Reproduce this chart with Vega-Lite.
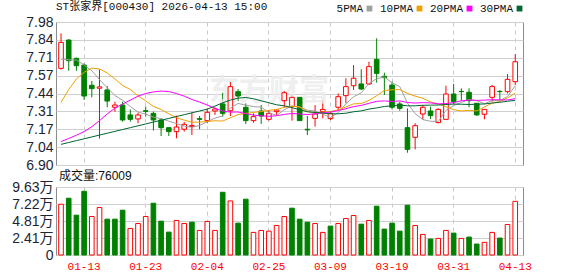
{
  "$schema": "https://vega.github.io/schema/vega-lite/v6.json",
  "background": "white",
  "padding": {"left": 0, "top": 0, "right": 0, "bottom": 0},
  "spacing": -4,
  "config": {
    "view": {"stroke": "#8c8c8c", "strokeWidth": 1},
    "axis": {"ticks": false, "domain": false, "gridColor": "#d0d0d0", "gridWidth": 1, "labelOverlap": false}
  },
  "data": {"values": [
    {"i":1,"d":"01-08","o":7.63,"h":7.894,"l":7.62,"c":7.826,"v":71900,"m5":7.70,"m10":7.373,"m20":7.077,"m30":7.056},
    {"i":2,"d":"01-09","o":7.844,"h":7.849,"l":7.612,"c":7.688,"v":80370,"m5":7.695,"m10":7.47,"m20":7.10,"m30":7.07},
    {"i":3,"d":"01-12","o":7.706,"h":7.71,"l":7.612,"c":7.65,"v":56400,"m5":7.693,"m10":7.55,"m20":7.125,"m30":7.084},
    {"i":4,"d":"01-13","o":7.655,"h":7.668,"l":7.391,"c":7.421,"v":90240,"m5":7.655,"m10":7.60,"m20":7.152,"m30":7.098},
    {"i":5,"d":"01-14","o":7.502,"h":7.535,"l":7.411,"c":7.477,"v":54500,"m5":7.612,"m10":7.632,"m20":7.19,"m30":7.112},
    {"i":6,"d":"01-15","o":7.48,"h":7.622,"l":7.10,"c":7.49,"v":67200,"m5":7.545,"m10":7.625,"m20":7.235,"m30":7.126},
    {"i":7,"d":"01-16","o":7.467,"h":7.497,"l":7.336,"c":7.383,"v":50760,"m5":7.484,"m10":7.595,"m20":7.285,"m30":7.14},
    {"i":8,"d":"01-19","o":7.336,"h":7.378,"l":7.303,"c":7.353,"v":50760,"m5":7.425,"m10":7.55,"m20":7.33,"m30":7.154},
    {"i":9,"d":"01-20","o":7.353,"h":7.378,"l":7.227,"c":7.24,"v":63450,"m5":7.389,"m10":7.50,"m20":7.36,"m30":7.168},
    {"i":10,"d":"01-21","o":7.278,"h":7.32,"l":7.227,"c":7.245,"v":37600,"m5":7.342,"m10":7.47,"m20":7.39,"m30":7.182},
    {"i":11,"d":"01-22","o":7.248,"h":7.295,"l":7.215,"c":7.278,"v":44650,"m5":7.30,"m10":7.423,"m20":7.42,"m30":7.196},
    {"i":12,"d":"01-23","o":7.31,"h":7.341,"l":7.265,"c":7.305,"v":54500,"m5":7.284,"m10":7.384,"m20":7.44,"m30":7.21},
    {"i":13,"d":"01-26","o":7.29,"h":7.303,"l":7.16,"c":7.24,"v":73300,"m5":7.262,"m10":7.343,"m20":7.452,"m30":7.224},
    {"i":14,"d":"01-27","o":7.24,"h":7.252,"l":7.119,"c":7.182,"v":47940,"m5":7.25,"m10":7.319,"m20":7.458,"m30":7.238},
    {"i":15,"d":"01-28","o":7.182,"h":7.185,"l":7.119,"c":7.152,"v":32430,"m5":7.231,"m10":7.287,"m20":7.455,"m30":7.252},
    {"i":16,"d":"01-29","o":7.152,"h":7.273,"l":7.102,"c":7.187,"v":48900,"m5":7.213,"m10":7.257,"m20":7.44,"m30":7.266},
    {"i":17,"d":"01-30","o":7.17,"h":7.225,"l":7.152,"c":7.207,"v":44650,"m5":7.194,"m10":7.239,"m20":7.42,"m30":7.28},
    {"i":18,"d":"02-02","o":7.19,"h":7.298,"l":7.127,"c":7.198,"v":46500,"m5":7.185,"m10":7.223,"m20":7.395,"m30":7.294},
    {"i":19,"d":"02-03","o":7.25,"h":7.27,"l":7.17,"c":7.245,"v":34800,"m5":7.198,"m10":7.224,"m20":7.375,"m30":7.308},
    {"i":20,"d":"02-04","o":7.235,"h":7.328,"l":7.215,"c":7.298,"v":47500,"m5":7.227,"m10":7.229,"m20":7.353,"m30":7.322},
    {"i":21,"d":"02-05","o":7.308,"h":7.336,"l":7.278,"c":7.323,"v":34800,"m5":7.254,"m10":7.234,"m20":7.328,"m30":7.345},
    {"i":22,"d":"02-06","o":7.361,"h":7.446,"l":7.265,"c":7.29,"v":88800,"m5":7.271,"m10":7.232,"m20":7.308,"m30":7.37},
    {"i":23,"d":"02-09","o":7.31,"h":7.529,"l":7.27,"c":7.492,"v":76600,"m5":7.33,"m10":7.257,"m20":7.30,"m30":7.39},
    {"i":24,"d":"02-10","o":7.454,"h":7.474,"l":7.383,"c":7.421,"v":45100,"m5":7.365,"m10":7.281,"m20":7.30,"m30":7.405},
    {"i":25,"d":"02-11","o":7.336,"h":7.366,"l":7.21,"c":7.235,"v":79000,"m5":7.352,"m10":7.29,"m20":7.288,"m30":7.41},
    {"i":26,"d":"02-12","o":7.235,"h":7.29,"l":7.22,"c":7.265,"v":32000,"m5":7.341,"m10":7.297,"m20":7.277,"m30":7.40},
    {"i":27,"d":"02-24","o":7.308,"h":7.353,"l":7.21,"c":7.27,"v":34800,"m5":7.337,"m10":7.304,"m20":7.271,"m30":7.385},
    {"i":28,"d":"02-25","o":7.245,"h":7.315,"l":7.235,"c":7.29,"v":33800,"m5":7.296,"m10":7.313,"m20":7.268,"m30":7.37},
    {"i":29,"d":"02-26","o":7.303,"h":7.32,"l":7.278,"c":7.315,"v":41800,"m5":7.275,"m10":7.32,"m20":7.272,"m30":7.355},
    {"i":30,"d":"02-27","o":7.386,"h":7.459,"l":7.336,"c":7.446,"v":54500,"m5":7.317,"m10":7.335,"m20":7.282,"m30":7.347},
    {"i":31,"d":"03-02","o":7.341,"h":7.429,"l":7.235,"c":7.411,"v":66300,"m5":7.346,"m10":7.344,"m20":7.289,"m30":7.333},
    {"i":32,"d":"03-03","o":7.411,"h":7.411,"l":7.235,"c":7.235,"v":50760,"m5":7.339,"m10":7.338,"m20":7.285,"m30":7.318},
    {"i":33,"d":"03-04","o":7.17,"h":7.27,"l":7.127,"c":7.165,"v":46500,"m5":7.314,"m10":7.305,"m20":7.281,"m30":7.302},
    {"i":34,"d":"03-05","o":7.252,"h":7.353,"l":7.19,"c":7.285,"v":44650,"m5":7.308,"m10":7.292,"m20":7.287,"m30":7.297},
    {"i":35,"d":"03-06","o":7.303,"h":7.391,"l":7.252,"c":7.32,"v":32000,"m5":7.283,"m10":7.30,"m20":7.295,"m30":7.292},
    {"i":36,"d":"03-09","o":7.25,"h":7.303,"l":7.24,"c":7.29,"v":40900,"m5":7.259,"m10":7.303,"m20":7.30,"m30":7.286},
    {"i":37,"d":"03-10","o":7.336,"h":7.441,"l":7.315,"c":7.416,"v":44650,"m5":7.295,"m10":7.317,"m20":7.311,"m30":7.287},
    {"i":38,"d":"03-11","o":7.424,"h":7.555,"l":7.366,"c":7.492,"v":51700,"m5":7.361,"m10":7.338,"m20":7.325,"m30":7.291},
    {"i":39,"d":"03-12","o":7.499,"h":7.655,"l":7.467,"c":7.555,"v":55900,"m5":7.415,"m10":7.362,"m20":7.341,"m30":7.302},
    {"i":40,"d":"03-13","o":7.512,"h":7.623,"l":7.467,"c":7.474,"v":43700,"m5":7.445,"m10":7.364,"m20":7.35,"m30":7.309},
    {"i":41,"d":"03-16","o":7.512,"h":7.68,"l":7.504,"c":7.643,"v":48900,"m5":7.516,"m10":7.388,"m20":7.366,"m30":7.322},
    {"i":42,"d":"03-17","o":7.698,"h":7.857,"l":7.522,"c":7.592,"v":69100,"m5":7.551,"m10":7.423,"m20":7.381,"m30":7.331},
    {"i":43,"d":"03-18","o":7.57,"h":7.597,"l":7.429,"c":7.56,"v":36700,"m5":7.565,"m10":7.463,"m20":7.384,"m30":7.342},
    {"i":44,"d":"03-19","o":7.504,"h":7.53,"l":7.32,"c":7.336,"v":45100,"m5":7.521,"m10":7.468,"m20":7.38,"m30":7.347},
    {"i":45,"d":"03-20","o":7.361,"h":7.378,"l":7.31,"c":7.328,"v":33800,"m5":7.492,"m10":7.469,"m20":7.384,"m30":7.353},
    {"i":46,"d":"03-23","o":7.182,"h":7.328,"l":6.993,"c":7.018,"v":70500,"m5":7.367,"m10":7.441,"m20":7.372,"m30":7.347},
    {"i":47,"d":"03-24","o":7.109,"h":7.215,"l":7.018,"c":7.197,"v":41800,"m5":7.288,"m10":7.42,"m20":7.368,"m30":7.347},
    {"i":48,"d":"03-25","o":7.285,"h":7.353,"l":7.24,"c":7.336,"v":29100,"m5":7.243,"m10":7.404,"m20":7.371,"m30":7.351},
    {"i":49,"d":"03-26","o":7.308,"h":7.341,"l":7.247,"c":7.273,"v":22600,"m5":7.23,"m10":7.376,"m20":7.369,"m30":7.352},
    {"i":50,"d":"03-27","o":7.22,"h":7.328,"l":7.215,"c":7.32,"v":23500,"m5":7.229,"m10":7.36,"m20":7.362,"m30":7.353},
    {"i":51,"d":"03-30","o":7.245,"h":7.499,"l":7.24,"c":7.436,"v":34800,"m5":7.312,"m10":7.34,"m20":7.364,"m30":7.357},
    {"i":52,"d":"03-31","o":7.436,"h":7.512,"l":7.361,"c":7.378,"v":31000,"m5":7.349,"m10":7.318,"m20":7.371,"m30":7.36},
    {"i":53,"d":"04-01","o":7.456,"h":7.479,"l":7.386,"c":7.454,"v":23500,"m5":7.372,"m10":7.308,"m20":7.385,"m30":7.359},
    {"i":54,"d":"04-02","o":7.449,"h":7.479,"l":7.336,"c":7.386,"v":25400,"m5":7.395,"m10":7.313,"m20":7.39,"m30":7.357},
    {"i":55,"d":"04-03","o":7.366,"h":7.366,"l":7.273,"c":7.278,"v":15500,"m5":7.386,"m10":7.308,"m20":7.388,"m30":7.359},
    {"i":56,"d":"04-07","o":7.283,"h":7.32,"l":7.245,"c":7.32,"v":17900,"m5":7.363,"m10":7.338,"m20":7.39,"m30":7.361},
    {"i":57,"d":"04-08","o":7.411,"h":7.504,"l":7.378,"c":7.492,"v":32000,"m5":7.386,"m10":7.367,"m20":7.393,"m30":7.368},
    {"i":58,"d":"04-09","o":7.456,"h":7.467,"l":7.391,"c":7.454,"v":24000,"m5":7.386,"m10":7.379,"m20":7.392,"m30":7.374},
    {"i":59,"d":"04-10","o":7.454,"h":7.587,"l":7.441,"c":7.547,"v":43200,"m5":7.418,"m10":7.407,"m20":7.391,"m30":7.381},
    {"i":60,"d":"04-13","o":7.529,"h":7.738,"l":7.504,"c":7.68,"v":76009,"m5":7.499,"m10":7.443,"m20":7.401,"m30":7.389}
  ]},
  "vconcat": [
    {
      "width": 467,
      "height": 143,
      "title": {"text": "ST张家界[000430] 2026-04-13 15:00", "anchor": "start", "frame": "group", "font": "Liberation Mono, Noto Sans CJK SC", "fontSize": 11, "fontWeight": "normal", "color": "#111", "offset": 3},
      "layer": [
        {
          "mark": {"type": "rule", "strokeWidth": 1},
          "encoding": {
            "x": {"field": "d", "type": "ordinal", "sort": null, "title": null,
                  "scale": {"type": "band", "paddingInner": 0, "paddingOuter": 0.33, "align": 0.23},
                  "axis": {"values": ["01-13","01-23","02-04","02-25","03-09","03-19","03-31","04-13"], "labels": false, "bandPosition": 0.5, "grid": true, "gridDash": [4, 4], "gridColor": "#c8c8c8", "title": null, "minExtent": 0, "maxExtent": 0, "labelPadding": 0}},
            "y": {"field": "l", "type": "quantitative", "title": null,
                  "scale": {"domain": [6.9, 7.98], "nice": false, "zero": false},
                  "axis": {"values": [6.9, 7.0351, 7.17, 7.3051, 7.44, 7.5749, 7.71, 7.8449, 7.98], "format": ".2f", "labelOverlap": false, "labelFont": "Liberation Sans", "labelFontSize": 14, "labelColor": "#1e2433", "labelPadding": 3, "minExtent": 55, "maxExtent": 55, "grid": true, "title": null}},
            "y2": {"field": "h"},
            "color": {"condition": {"test": "datum.c >= datum.o", "value": "#ff0000"}, "value": "#008000"}
          }
        },
        {
          "data": {"values": [{"t": "东方财富"}]},
          "mark": {"type": "text", "font": "Noto Sans CJK SC", "fontSize": 30, "fontWeight": "bold", "color": "#ececec", "align": "center", "baseline": "middle", "opacity": 0.8},
          "encoding": {
            "x": {"datum": "02-25", "type": "ordinal",
                  "axis": {"values": ["01-13","01-23","02-04","02-25","03-09","03-19","03-31","04-13"], "labels": false, "bandPosition": 0.5, "grid": true, "gridDash": [4, 4], "gridColor": "#c8c8c8", "title": null, "minExtent": 0, "maxExtent": 0, "labelPadding": 0}},
            "y": {"datum": 7.46, "type": "quantitative",
                  "axis": {"values": [6.9, 7.0351, 7.17, 7.3051, 7.44, 7.5749, 7.71, 7.8449, 7.98], "format": ".2f", "labelOverlap": false, "labelFont": "Liberation Sans", "labelFontSize": 14, "labelColor": "#1e2433", "labelPadding": 3, "minExtent": 55, "maxExtent": 55, "grid": true, "title": null}},
            "text": {"field": "t", "type": "nominal"}
          }
        },
        {
          "mark": {"type": "bar", "width": {"band": 0.6}, "strokeWidth": 1},
          "encoding": {
            "x": {"field": "d", "type": "ordinal", "sort": null, "title": null},
            "y": {"field": "o", "type": "quantitative", "title": null,
                  "axis": {"values": [6.9, 7.0351, 7.17, 7.3051, 7.44, 7.5749, 7.71, 7.8449, 7.98], "format": ".2f", "labelOverlap": false, "labelFont": "Liberation Sans", "labelFontSize": 14, "labelColor": "#1e2433", "labelPadding": 3, "minExtent": 55, "maxExtent": 55, "grid": true, "title": null}},
            "y2": {"field": "c"},
            "fill": {"condition": {"test": "datum.c >= datum.o", "value": "#ffffff"}, "value": "#008000"},
            "stroke": {"condition": {"test": "datum.c >= datum.o", "value": "#ff0000"}, "value": "#008000"}
          }
        },
        {
          "mark": {"type": "line", "strokeWidth": 1},
          "encoding": {
            "x": {"field": "d", "type": "ordinal", "sort": null, "title": null},
            "y": {"field": "m5", "type": "quantitative", "title": null,
                  "axis": {"values": [6.9, 7.0351, 7.17, 7.3051, 7.44, 7.5749, 7.71, 7.8449, 7.98], "format": ".2f", "labelOverlap": false, "labelFont": "Liberation Sans", "labelFontSize": 14, "labelColor": "#1e2433", "labelPadding": 3, "minExtent": 55, "maxExtent": 55, "grid": true, "title": null}},
            "color": {"datum": "5PMA", "type": "nominal",
                      "scale": {"domain": ["5PMA", "10PMA", "20PMA", "30PMA"], "range": ["#a0a0a0", "#f0a000", "#ff00ff", "#006633"]},
                      "legend": {"orient": "none", "legendX": 308, "legendY": -19, "direction": "horizontal", "title": null, "symbolType": "square", "symbolSize": 8, "symbolStrokeWidth": 3, "labelFont": "Liberation Mono", "labelFontSize": 11, "labelColor": "#111", "labelAlign": "right", "labelOffset": -12, "columnPadding": 2}}
          }
        },
        {
          "mark": {"type": "line", "strokeWidth": 1},
          "encoding": {
            "x": {"field": "d", "type": "ordinal", "sort": null, "title": null},
            "y": {"field": "m10", "type": "quantitative", "title": null,
                  "axis": {"values": [6.9, 7.0351, 7.17, 7.3051, 7.44, 7.5749, 7.71, 7.8449, 7.98], "format": ".2f", "labelOverlap": false, "labelFont": "Liberation Sans", "labelFontSize": 14, "labelColor": "#1e2433", "labelPadding": 3, "minExtent": 55, "maxExtent": 55, "grid": true, "title": null}},
            "color": {"datum": "10PMA", "type": "nominal"}
          }
        },
        {
          "mark": {"type": "line", "strokeWidth": 1},
          "encoding": {
            "x": {"field": "d", "type": "ordinal", "sort": null, "title": null},
            "y": {"field": "m20", "type": "quantitative", "title": null,
                  "axis": {"values": [6.9, 7.0351, 7.17, 7.3051, 7.44, 7.5749, 7.71, 7.8449, 7.98], "format": ".2f", "labelOverlap": false, "labelFont": "Liberation Sans", "labelFontSize": 14, "labelColor": "#1e2433", "labelPadding": 3, "minExtent": 55, "maxExtent": 55, "grid": true, "title": null}},
            "color": {"datum": "20PMA", "type": "nominal"}
          }
        },
        {
          "mark": {"type": "line", "strokeWidth": 1},
          "encoding": {
            "x": {"field": "d", "type": "ordinal", "sort": null, "title": null},
            "y": {"field": "m30", "type": "quantitative", "title": null,
                  "axis": {"values": [6.9, 7.0351, 7.17, 7.3051, 7.44, 7.5749, 7.71, 7.8449, 7.98], "format": ".2f", "labelOverlap": false, "labelFont": "Liberation Sans", "labelFontSize": 14, "labelColor": "#1e2433", "labelPadding": 3, "minExtent": 55, "maxExtent": 55, "grid": true, "title": null}},
            "color": {"datum": "30PMA", "type": "nominal"}
          }
        }
      ]
    },
    {
      "width": 467,
      "height": 68,
      "title": {"text": "成交量:76009", "anchor": "start", "frame": "group", "font": "Liberation Sans, Noto Sans CJK SC", "fontSize": 12, "fontWeight": "normal", "color": "#111", "offset": -3, "dx": 3},
      "transform": [{"window": [{"op": "lag", "field": "c", "as": "pc"}], "sort": [{"field": "i"}]}],
      "mark": {"type": "bar", "width": {"band": 0.6}, "strokeWidth": 1},
      "encoding": {
        "x": {"field": "d", "type": "ordinal", "sort": null, "title": null,
              "scale": {"type": "band", "paddingInner": 0, "paddingOuter": 0.33, "align": 0.23},
              "axis": {"values": ["01-13","01-23","02-04","02-25","03-09","03-19","03-31","04-13"], "labelAngle": 0, "labelColor": "#ff0000", "labelFont": "Liberation Mono", "labelFontSize": 11, "labelPadding": 5, "bandPosition": 0.5, "grid": true, "gridDash": [4, 4], "gridColor": "#c8c8c8", "title": null}},
        "y": {"field": "v", "type": "quantitative", "title": null,
              "scale": {"domain": [0, 96300], "nice": false},
              "axis": {"values": [0, 24075, 48149, 72225, 96300], "labelExpr": "datum.value == 0 ? '0' : format(datum.value / 10000, '.2f') + '万'", "labelOverlap": false, "labelFont": "Liberation Sans, Noto Sans CJK SC", "labelFontSize": 14, "labelColor": "#1e2433", "labelPadding": 3, "minExtent": 55, "maxExtent": 55, "grid": true, "title": null}},
        "fill": {"condition": {"test": "datum.pc == null || datum.c >= datum.pc", "value": "#ffffff"}, "value": "#008000"},
        "stroke": {"condition": {"test": "datum.pc == null || datum.c >= datum.pc", "value": "#ff0000"}, "value": "#008000"}
      }
    }
  ]
}
